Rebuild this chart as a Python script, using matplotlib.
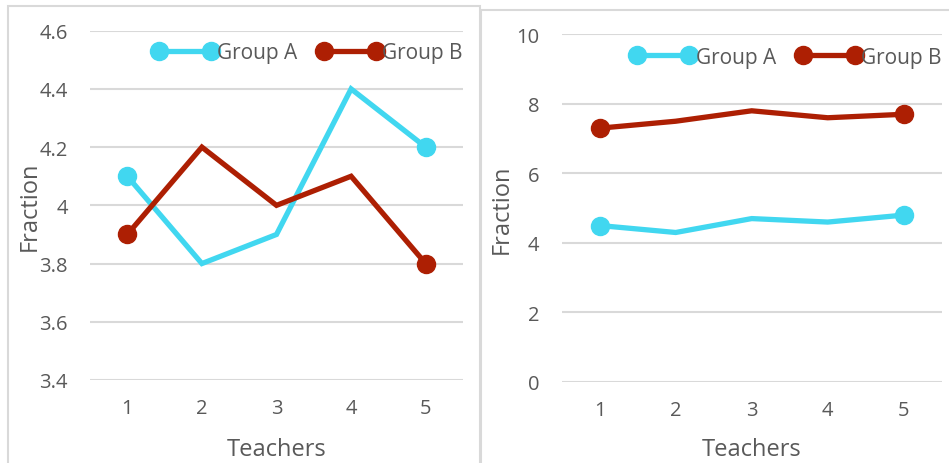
# two Excel-style line charts of fraction by teacher

import matplotlib.pyplot as plt
from matplotlib.lines import Line2D
from matplotlib.patches import Rectangle

plt.rcParams['font.family'] = ['Open Sans', 'DejaVu Sans']

teachers = [1, 2, 3, 4, 5]

# left chart
left_group_a = [4.1, 3.8, 3.9, 4.4, 4.2]
left_group_b = [3.9, 4.2, 4.0, 4.1, 3.8]
left_yticks = [3.4, 3.6, 3.8, 4.0, 4.2, 4.4, 4.6]
left_ylabels = ['3.4', '3.6', '3.8', '4', '4.2', '4.4', '4.6']

# right chart
right_group_a = [4.5, 4.3, 4.7, 4.6, 4.8]
right_group_b = [7.3, 7.5, 7.8, 7.6, 7.7]
right_yticks = [0, 2, 4, 6, 8, 10]
right_ylabels = ['0', '2', '4', '6', '8', '10']

color_a = '#41D7F0'
color_b = '#AD1F03'
text_gray = '#595959'
grid_gray = '#D9D9D9'

W, H = 949, 464
fig = plt.figure(figsize=(W / 100, H / 100), dpi=100)

# chart area borders
fig.patches.append(Rectangle((8 / W, -0.1), 472 / W, 1.1 - 7.5 / H, transform=fig.transFigure,
                             fill=False, edgecolor='#D9D9D9', linewidth=1.5))
fig.patches.append(Rectangle((481 / W, -0.1), 0.5, 1.1 - 11 / H, transform=fig.transFigure,
                             fill=False, edgecolor='#D9D9D9', linewidth=1.5))


def make_panel(rect, group_a, group_b, yticks, ylabels, ylabel_x, legend_anchor):
    x0, x1, ytop, ybot = rect
    ax = fig.add_axes([x0 / W, 1 - ybot / H, (x1 - x0) / W, (ybot - ytop) / H])
    ax.plot(teachers, group_a, color=color_a, linewidth=3.8, marker='o', markersize=13,
            markevery=[0, 4], solid_joinstyle='miter', label='Group A')
    ax.plot(teachers, group_b, color=color_b, linewidth=3.8, marker='o', markersize=13,
            markevery=[0, 4], solid_joinstyle='miter', label='Group B')
    ax.set_xlim(0.5, 5.5)
    ax.set_ylim(yticks[0], yticks[-1])
    ax.set_xticks(teachers)
    ax.set_yticks(yticks)
    ax.set_yticklabels(ylabels)
    ax.grid(axis='y', color=grid_gray, linewidth=1.5)
    ax.set_axisbelow(True)
    for s in ax.spines.values():
        s.set_visible(False)
    ax.tick_params(length=0, labelsize=14.5, labelcolor=text_gray)
    ax.tick_params(axis='y', pad=16)
    ax.tick_params(axis='x', pad=13)
    ax.set_ylabel('Fraction', fontsize=17, color=text_gray, va='center')
    ax.yaxis.set_label_coords((ylabel_x - x0) / (x1 - x0), 0.5)
    ax.set_xlabel('Teachers', fontsize=17, color=text_gray, va='center')
    ax.xaxis.set_label_coords(0.5, -(450 - ybot) / (ybot - ytop))

    handles = [Line2D([], [], color=color_a, linewidth=3.8, marker='o', markersize=13),
               Line2D([], [], color=color_b, linewidth=3.8, marker='o', markersize=13)]
    ax.legend(handles, ['Group A', 'Group B'], loc='center right', bbox_to_anchor=legend_anchor,
              frameon=False, ncol=2, numpoints=2, handlelength=3.1, handletextpad=0.0,
              columnspacing=1.0, fontsize=15, labelcolor=text_gray, borderaxespad=0,
              borderpad=0)
    return ax


make_panel((90, 463, 31.7, 381), left_group_a, left_group_b, left_yticks, left_ylabels, 30,
           (1.0, 1 - (54 - 31.7) / (381 - 31.7)))
make_panel((561.7, 941.7, 35.3, 383), right_group_a, right_group_b, right_yticks, right_ylabels, 502,
           (1.0, 1 - (58 - 35.3) / (383 - 35.3)))

fig.savefig('out.png', dpi=100)
